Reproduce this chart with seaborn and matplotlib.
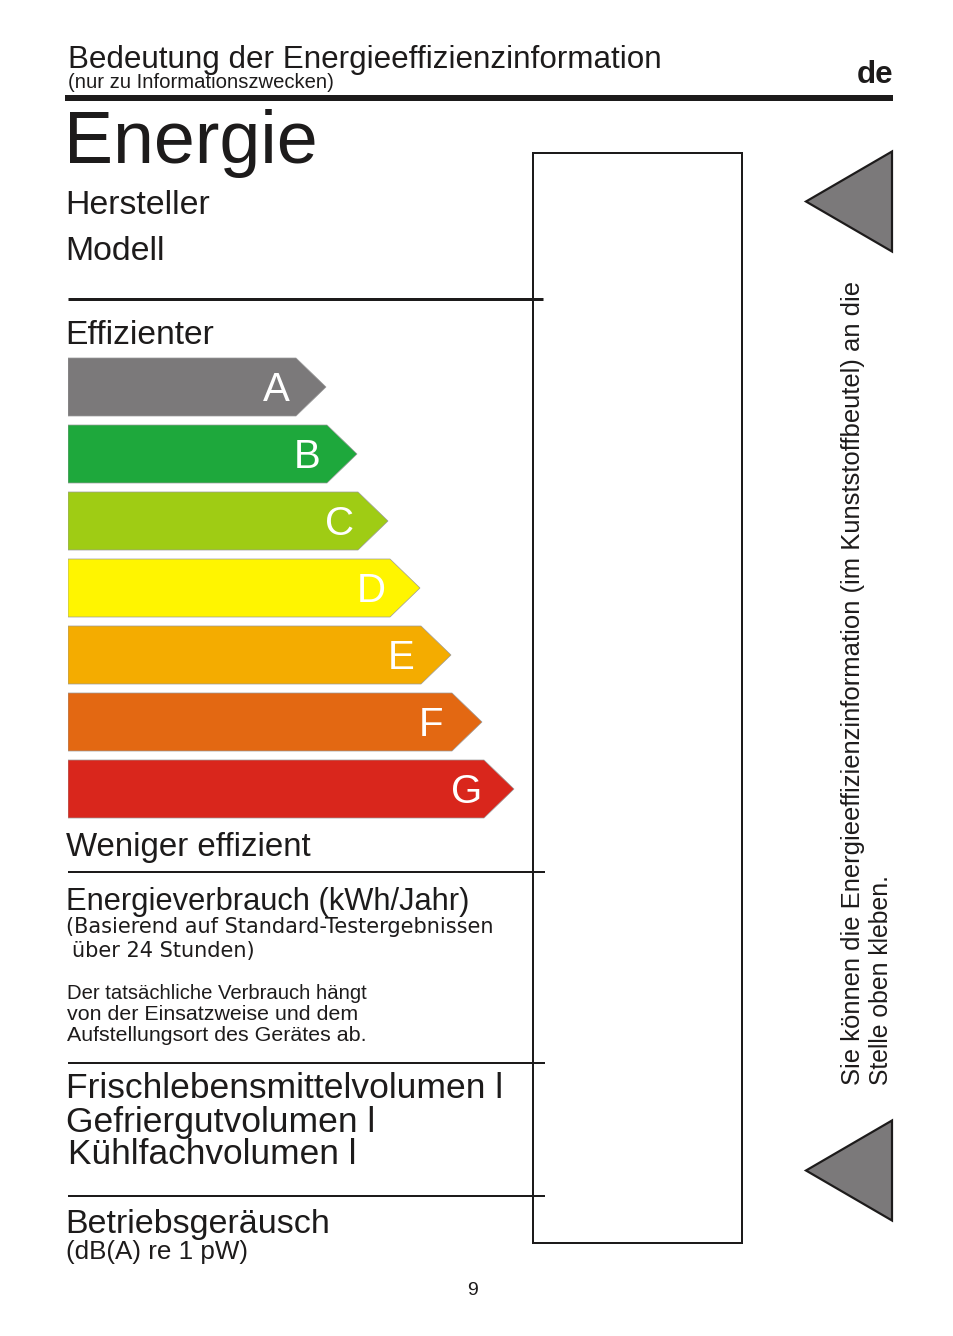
import matplotlib
matplotlib.use("Agg")
import matplotlib.pyplot as plt
from matplotlib.patches import Polygon, Rectangle
import pandas as pd
import seaborn as sns

sns.set_theme(style="white")
plt.rcParams['font.family'] = ['Liberation Sans', 'DejaVu Sans']

# ---- data ----
classes = ["A", "B", "C", "D", "E", "F", "G"]
bar_lengths = [228, 259, 290, 322, 353, 384, 416]
bar_colors = ["#7b797a", "#1ea83c", "#9fcc14", "#fff500", "#f4ac00", "#e36812", "#d9261c"]

W, H = 954, 1336
fig = plt.figure(figsize=(W / 100, H / 100), dpi=100, facecolor="white")
page = fig.add_axes([0, 0, 1, 1])
page.set_xlim(0, W)
page.set_ylim(H, 0)
page.axis("off")

# bar axes: category centres 387 + 67*i px
bx0, by0 = 68, 353.5
bw, bh = W - bx0, 67 * 7
ax = fig.add_axes([bx0 / W, 1 - (by0 + bh) / H, bw / W, bh / H])
ax.patch.set_alpha(0)
df = pd.DataFrame({"cls": classes, "len": bar_lengths})
sns.barplot(data=df, y="cls", x="len", hue="cls", palette=bar_colors, dodge=False,
            legend=False, width=58 / 67, saturation=1, ax=ax, linewidth=0)
ax.set_xlim(0, bw)
ax.set_ylim(6.5, -0.5)
ax.axis("off")
head = 30
halfh = 29 / 67
for p, c, cl, off in zip(ax.patches, bar_colors, classes, (20, 20, 18.5, 19, 20, 21, 17)):
    yc = p.get_y() + p.get_height() / 2
    x1 = p.get_x() + p.get_width()
    ax.add_patch(Polygon([(0, yc - halfh), (x1, yc - halfh), (x1 + head, yc), (x1, yc + halfh), (0, yc + halfh)],
                         closed=True, fc=c, ec="#9a9a9a", lw=0.5, joinstyle="miter"))
    ax.text(x1 - off, yc + 13.5 / 67, cl, color="white", fontsize=29, ha="center", va="baseline")

def T(x, y, s, size, **kw):
    page.text(x, y, s, fontsize=size, color="#1d1b1b", va="baseline", ha=kw.pop("ha", "left"), **kw)

def L(x0, x1, y, px):
    page.plot([x0, x1], [y, y], color="#1d1b1b", lw=px * 0.72, solid_capstyle="butt")

T(68, 68, "Bedeutung der Energieeffizienzinformation", 22.6)
T(68, 88, "(nur zu Informationszwecken)", 14.55)
T(893, 83, "de", 22.5, ha="right", fontweight="bold")
T(64, 163, "Energie", 53)
T(65, 213.5, "Hersteller", 24.4)
T(65, 260.5, "Modell", 24.4)
T(65, 343.5, "Effizienter", 24.2)
T(66, 856, "Weniger effizient", 23.8)
T(66, 910, "Energieverbrauch (kWh/Jahr)", 22.2)
T(66, 933, "(Basierend auf Standard-Testergebnissen", 15, family="DejaVu Sans")
T(72, 957, "über 24 Stunden)", 15, family="DejaVu Sans")
T(67, 999, "Der tatsächliche Verbrauch hängt", 14.6)
T(67, 1020, "von der Einsatzweise und dem", 15.4)
T(67, 1041, "Aufstellungsort des Gerätes ab.", 15.4)
T(66, 1098, "Frischlebensmittelvolumen l", 25.5)
T(66, 1132, "Gefriergutvolumen l", 25.5)
T(68, 1164, "Kühlfachvolumen l", 25.4)
T(65, 1233, "Betriebsgeräusch", 24.5)
T(66, 1259.5, "(dB(A) re 1 pW)", 18.7)
T(473, 1295, "9", 14, ha="center")
page.text(860, 1085, "Sie können die Energieeffizienzinformation (im Kunststoffbeutel) an die", fontsize=18.45,
          rotation=90, color="#1d1b1b", ha="left", va="baseline", rotation_mode="anchor")
page.text(888, 1085, "Stelle oben kleben.", fontsize=17.8,
          rotation=90, color="#1d1b1b", ha="left", va="baseline", rotation_mode="anchor")

L(65.5, 893, 98, 6)
L(68, 543, 299, 3)
L(68, 545, 872, 2)
L(68, 545, 1063, 2)
L(68, 545, 1196, 2)
page.add_patch(Rectangle((533, 153), 209, 1090, fc="none", ec="#1d1b1b", lw=2 * 0.72))
for yc in (201.5, 1170.5):
    page.add_patch(Polygon([(806, yc), (892, yc - 50), (892, yc + 50)], closed=True,
                           fc="#7b797a", ec="#1d1b1b", lw=2.2 * 0.72, joinstyle="miter"))

fig.savefig("out.png", dpi=100, facecolor="white")
